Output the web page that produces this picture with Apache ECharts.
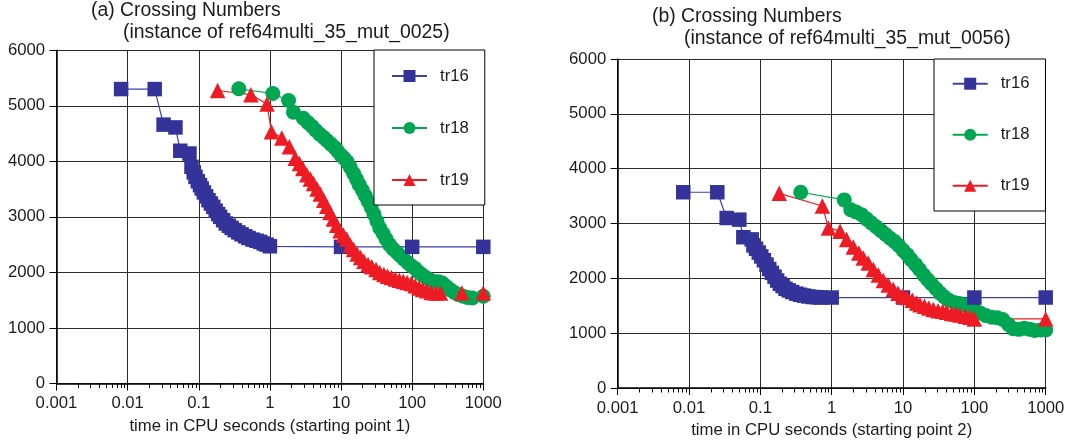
<!DOCTYPE html>
<html>
<head>
<meta charset="utf-8">
<script src="https://cdn.jsdelivr.net/npm/echarts@6/dist/echarts.min.js"></script>
<style>
html,body{margin:0;padding:0;background:#fff;}
#c{width:1068px;height:444px;}
</style>
</head>
<body>
<div id="c"></div>
<script>
// ---------- data ----------
const seriesNames = ['tr16', 'tr18', 'tr19'];
const xTickLabels = ['0.001', '0.01', '0.1', '1', '10', '100', '1000'];
const minorTickValues = [
  0.002,0.003,0.004,0.005,0.006,0.007,0.008,0.009,
  0.02,0.03,0.04,0.05,0.06,0.07,0.08,0.09,
  0.2,0.3,0.4,0.5,0.6,0.7,0.8,0.9,
  2,3,4,5,6,7,8,9,
  20,30,40,50,60,70,80,90,
  200,300,400,500,600,700,800,900
];
const titlesA = ['(a) Crossing Numbers', '(instance of ref64multi_35_mut_0025)'];
const titlesB = ['(b) Crossing Numbers', '(instance of ref64multi_35_mut_0056)'];
const xNameA = 'time in CPU seconds (starting point 1)';
const xNameB = 'time in CPU seconds (starting point 2)';

// (a) starting point 1
const a_tr16 = [
  [0.0081,5300],[0.024,5300],[0.032,4660],[0.047,4610],[0.055,4190],[0.074,4140],
  [0.079,3900],[0.085,3800],[0.09,3720],[0.097,3640],[0.104,3570],[0.11,3510],[0.118,3440],
  [0.127,3370],[0.137,3300],[0.148,3240],[0.16,3180],[0.173,3110],[0.187,3050],[0.2,3000],
  [0.22,2940],[0.24,2880],[0.265,2840],[0.29,2800],[0.32,2760],[0.36,2720],[0.4,2685],
  [0.45,2650],[0.5,2620],[0.57,2590],[0.65,2570],[0.73,2550],[0.82,2520],[0.9,2500],[1.0,2470],
  [10,2460],[100,2460],[1000,2460]
];
const a_tr18 = [
  [0.365,5305],[1.1,5220],[1.83,5095],[2.14,4885],[2.95,4775],
  [3.4,4700],[3.9,4630],[4.4,4560],[5.0,4490],[5.7,4430],[6.4,4370],[7.2,4310],[8.1,4250],
  [9.0,4180],[10,4110],[11,4060],[12.2,3990],[13.5,3890],[15,3780],[16.5,3680],[18,3580],
  [20,3480],[22,3380],[24,3280],[26.5,3170],[29,3050],[32,2920],[35,2800],[39,2700],[43,2600],
  [48,2500],[54,2420],[61,2360],[68,2300],[76,2240],[86,2180],[97,2120],[110,2070],[125,2000],
  [140,1950],[160,1900],[180,1860],[205,1830],[235,1830],[265,1810],[300,1750],[340,1690],
  [390,1640],[450,1600],[520,1570],[600,1550],[700,1540],[1000,1570]
];
const a_tr19 = [
  [0.184,5275],[0.54,5200],[0.91,5030],[1.05,4533],[1.47,4420],[1.88,4263],[2.27,4054],
  [2.6,3960],[2.9,3870],[3.3,3760],[3.7,3680],[4.1,3600],[4.6,3500],[5.1,3410],[5.7,3300],
  [6.3,3190],[7.0,3080],[7.8,2960],[8.7,2850],[9.7,2750],[10.8,2670],[12,2600],[13.5,2490],
  [15,2410],[16.8,2330],[18.8,2270],[21,2200],[24,2140],[27,2100],[31,2050],[35,2000],
  [40,1960],[45,1930],[51,1910],[58,1880],[66,1860],[75,1840],[85,1820],[97,1800],[110,1760],
  [125,1720],[140,1690],[160,1670],[185,1640],[215,1630],[250,1630],[500,1630],[1000,1630]
];

// (b) starting point 2
const b_tr16 = [
  [0.0083,3570],[0.0249,3570],[0.0337,3100],[0.0507,3070],[0.0577,2750],[0.0756,2710],
  [0.08,2600],[0.087,2540],[0.095,2470],[0.103,2400],[0.112,2330],[0.122,2250],[0.133,2170],
  [0.145,2100],[0.158,2030],[0.172,1960],[0.188,1900],[0.205,1860],[0.225,1810],[0.25,1780],
  [0.28,1750],[0.32,1720],[0.36,1700],[0.41,1685],[0.47,1670],[0.54,1660],[0.62,1655],
  [0.7,1650],[1.0,1650],[10,1650],[100,1650],[1000,1650]
];
const b_tr18 = [
  [0.368,3570],[1.5,3430],
  [1.85,3250],[2.2,3210],[2.63,3160],[3.1,3080],[3.6,3010],[4.2,2940],[4.9,2870],[5.7,2800],
  [6.6,2730],[7.6,2670],[8.7,2600],[10,2510],[11.5,2430],[13,2340],[15,2250],[17,2160],
  [19.5,2060],[22,1980],[25,1900],[29,1810],[33,1730],[38,1660],[44,1600],[52,1560],[62,1540],
  [73,1510],[86,1470],[100,1430],[120,1370],[145,1320],[175,1290],[210,1280],[250,1250],
  [300,1160],[350,1080],[420,1070],[500,1090],[600,1070],[700,1050],[850,1060],[1000,1060]
];
const b_tr19 = [
  [0.184,3550],[0.74,3320],[0.9,2920],[1.31,2860],[1.62,2710],[2.01,2570],[2.4,2460],
  [2.77,2370],[3.25,2280],[3.83,2160],[4.5,2060],[5.3,1960],[6.2,1880],[7.3,1800],[8.5,1730],
  [10,1680],[11.3,1650],[13.5,1600],[15.5,1550],[17.3,1520],[20,1490],[23,1460],[26.6,1430],
  [31,1410],[36,1400],[41,1380],[48,1360],[55,1350],[63,1330],[75,1310],[87,1290],[100,1260],
  [1000,1260]
];

// ---------- styling ----------
const FONT = 'Liberation Sans, Arial, Helvetica, sans-serif';
const TXT = '#1e1a1b';
const COLORS = { tr16: '#333399', tr18: '#00a651', tr19: '#ed1c24' };
const LINECOL = { tr16: '#3d43a3', tr18: '#00a651', tr19: '#ed1c24' };
const SYMBOL = { tr16: 'rect', tr18: 'circle', tr19: 'triangle' };
const SYMSIZE = { tr16: 14.5, tr18: 15, tr19: 15.5 };

const grids = [
  { left: 56.5, top: 50.2, width: 426.8, height: 333.3 },
  { left: 617.7, top: 59, width: 428, height: 333.3 }
];

function mainX(gi, name) {
  return {
    type: 'log', logBase: 10, gridIndex: gi, min: 0.001, max: 1000,
    name: name, nameLocation: 'middle', nameGap: 34,
    nameTextStyle: { fontFamily: FONT, fontSize: 16.7, color: TXT },
    axisLine: { show: true, onZero: false, lineStyle: { color: '#000', width: 1.5 } },
    axisTick: { show: true, inside: false, length: 7, lineStyle: { color: '#000', width: 1 } },
    axisLabel: {
      margin: 11.5, fontFamily: FONT, fontSize: 16.7, color: TXT,
      formatter: function (v) { return xTickLabels[Math.round(Math.log10(v)) + 3]; }
    },
    splitLine: { show: true, lineStyle: { color: '#2b2b2b', width: 1 } }
  };
}
function mainY(gi) {
  return {
    type: 'value', gridIndex: gi, min: 0, max: 6000, interval: 1000,
    axisLine: { show: true, onZero: false, lineStyle: { color: '#000', width: 1.5 } },
    axisTick: { show: true, length: 7, lineStyle: { color: '#000', width: 1 } },
    axisLabel: { margin: 11.5, fontFamily: FONT, fontSize: 16.7, color: TXT,
      formatter: function (v) { return String(v); } },
    splitLine: { show: true, lineStyle: { color: '#2b2b2b', width: 1 } }
  };
}

function mkSeries(name, data, gi) {
  return {
    name: name, type: 'line', xAxisIndex: gi, yAxisIndex: gi, data: data,
    symbol: SYMBOL[name], symbolSize: SYMSIZE[name], showSymbol: true, showAllSymbol: true,
    lineStyle: { color: LINECOL[name], width: 1.2 },
    itemStyle: { color: COLORS[name] },
    emphasis: { disabled: true }, animation: false, clip: false
  };
}

// minor log ticks (2..9 per decade) placed through the log x axis
function minorTickSeries(gi) {
  return {
    type: 'custom', name: 'minorTicks' + gi, xAxisIndex: gi, yAxisIndex: gi,
    data: minorTickValues.map(function (v) { return [v, 0]; }),
    encode: { x: 0, y: 1 }, clip: false, silent: true, z: 5,
    renderItem: function (params, api) {
      const p = api.coord([api.value(0), 0]);
      const x = Math.round(p[0]) + 0.5;
      return { type: 'line', shape: { x1: x, y1: p[1], x2: x, y2: p[1] + 4.5 },
        style: { stroke: '#000', lineWidth: 1 } };
    }
  };
}

function legendAt(left, top, pad, gap) {
  return {
    orient: 'vertical', left: left, top: top, padding: pad, itemGap: gap,
    itemWidth: 35, itemHeight: 15,
    backgroundColor: '#fff', borderColor: '#000', borderWidth: 1, borderRadius: 0,
    data: seriesNames,
    textStyle: { fontFamily: FONT, fontSize: 16.7, color: TXT, lineHeight: 15, padding: [0, 0, 0, 8] },
    selectedMode: false
  };
}

function titleItem(text, left, top) {
  return { text: text, left: left, top: top, padding: 0,
    textStyle: { fontFamily: FONT, fontSize: 19.4, fontWeight: 'normal', color: TXT } };
}

const chart = echarts.init(document.getElementById('c'), null, { renderer: 'canvas', width: 1068, height: 444 });
chart.setOption({
  animation: false,
  backgroundColor: '#fff',
  title: [
    titleItem(titlesA[0], 91, 1.5),
    titleItem(titlesA[1], 123, 23),
    titleItem(titlesB[0], 652, 7.5),
    titleItem(titlesB[1], 684, 29.5)
  ],
  grid: grids,
  xAxis: [mainX(0, xNameA), mainX(1, xNameB)],
  yAxis: [mainY(0), mainY(1)],
  legend: [
    legendAt(374, 50, [17.5, 16, 16.5, 17], 35),
    legendAt(934, 59, [16.2, 16, 16.8, 17.7], 34)
  ],
  series: [
    minorTickSeries(0), minorTickSeries(1),
    mkSeries('tr18', a_tr18, 0), mkSeries('tr16', a_tr16, 0), mkSeries('tr19', a_tr19, 0),
    mkSeries('tr18', b_tr18, 1), mkSeries('tr16', b_tr16, 1), mkSeries('tr19', b_tr19, 1)
  ]
});
</script>
</body>
</html>
